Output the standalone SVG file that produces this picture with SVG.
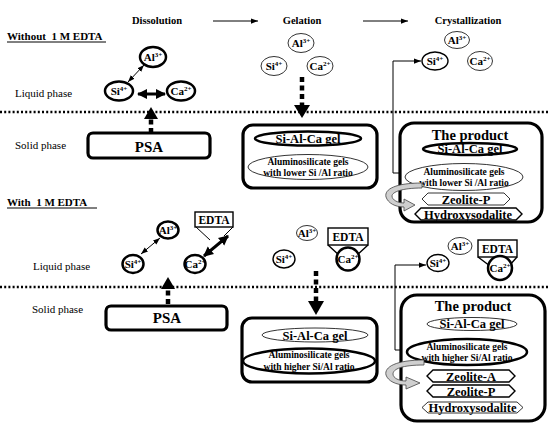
<svg xmlns="http://www.w3.org/2000/svg" width="550" height="426" viewBox="0 0 550 426">
<defs>
<style>
text{font-family:"Liberation Serif","Times New Roman",serif;fill:#000}
.h{font-weight:bold;font-size:11px}
.lbl{font-size:11px}
.ion{font-weight:bold;font-size:11px;text-anchor:middle}
.sup{font-size:7px}
.thick{fill:#fff;stroke:#000;stroke-width:2.5}
.med{fill:#fff;stroke:#000;stroke-width:1.4}
.thin{fill:#fff;stroke:#000;stroke-width:0.8}
.box{fill:#fff;stroke:#000;stroke-width:3.2}
.dots{stroke:#000;stroke-width:2.6;stroke-dasharray:2 2.2;fill:none}
.dash{stroke:#000;stroke-width:4.5;stroke-dasharray:5 3.5;fill:none}
.ln{stroke:#000;stroke-width:1;fill:none}
.mid{text-anchor:middle;font-weight:bold}
.ribbon{fill:#cfcfcf;stroke:#444;stroke-width:0.8}
</style>
<marker id="ah" viewBox="0 0 8 6" refX="8" refY="3" markerUnits="userSpaceOnUse" markerWidth="7" markerHeight="5.5" orient="auto-start-reverse"><path d="M0,0 L8,3 L0,6 z" fill="#000"/></marker>
<marker id="big" viewBox="0 0 10 10" refX="9" refY="5" markerUnits="userSpaceOnUse" markerWidth="10" markerHeight="11" orient="auto-start-reverse"><path d="M0,0 L10,5 L0,10 z" fill="#000"/></marker>
</defs>

<!-- phase separators -->
<line class="dots" x1="0" y1="112" x2="550" y2="112"/>
<line class="dots" x1="0" y1="287" x2="550" y2="287"/>

<!-- headers -->
<g id="headers">
<text class="mid" x="157" y="24" font-size="10.5">Dissolution</text>
<text class="mid" x="302" y="24" font-size="10.5">Gelation</text>
<text class="mid" x="468" y="24" font-size="10.5">Crystallization</text>
<text class="h" x="7" y="40" xml:space="preserve">Without  1 M EDTA</text>
<line x1="7" y1="42" x2="106" y2="42" stroke="#000" stroke-width="1"/>
<text class="h" x="7" y="206" xml:space="preserve">With  1 M EDTA</text>
<line x1="7" y1="208" x2="97" y2="208" stroke="#000" stroke-width="1"/>
<text class="lbl" x="15" y="97">Liquid phase</text>
<text class="lbl" x="15" y="149">Solid phase</text>
<text class="lbl" x="33" y="270">Liquid phase</text>
<text class="lbl" x="32" y="313">Solid phase</text>
</g>

<!-- connectors -->
<g id="connectors">
<line class="ln" x1="213" y1="21" x2="258" y2="21" stroke="#333" marker-end="url(#ah)"/>
<line class="ln" x1="363" y1="21" x2="408" y2="21" stroke="#333" marker-end="url(#ah)"/>
<line class="ln" x1="128" y1="82" x2="144" y2="65" marker-start="url(#ah)" marker-end="url(#ah)"/>
<line x1="138" y1="94" x2="165" y2="94" stroke="#000" stroke-width="3" marker-start="url(#big)" marker-end="url(#big)"/>
<line class="dash" x1="151" y1="133" x2="151" y2="119"/>
<polygon points="144,119 158,119 151,107" fill="#000"/>
<line class="dash" x1="302" y1="77" x2="302" y2="105"/>
<polygon points="294,105 310,105 302,118" fill="#000"/>
<path class="ln" d="M406,173 H393 V61 H421" marker-start="url(#ah)" marker-end="url(#ah)"/>
<line class="ln" x1="141" y1="254" x2="160" y2="238" marker-start="url(#ah)" marker-end="url(#ah)"/>
<line x1="204" y1="256" x2="228" y2="236" stroke="#000" stroke-width="3" marker-start="url(#big)" marker-end="url(#big)"/>
<line class="dash" x1="168" y1="304" x2="168" y2="289"/>
<polygon points="161,289 175,289 168,277" fill="#000"/>
<line class="dash" x1="316" y1="271" x2="316" y2="301"/>
<polygon points="308,301 324,301 316,315" fill="#000"/>
<path class="ln" d="M408,350 H395 V265 H426" marker-start="url(#ah)" marker-end="url(#ah)"/>
</g>

<!-- top row ions -->
<g id="ions-top-dissolution">
<ellipse class="thick" cx="153" cy="57" rx="13" ry="10"/>
<text class="ion" x="153" y="61">Al<tspan class="sup" dy="-4">3+</tspan></text>
<ellipse class="thick" cx="119" cy="91" rx="14" ry="9.5"/>
<text class="ion" x="119" y="95">Si<tspan class="sup" dy="-4">4+</tspan></text>
<ellipse class="thick" cx="181" cy="91" rx="14" ry="9.5"/>
<text class="ion" x="181" y="95">Ca<tspan class="sup" dy="-4">2+</tspan></text>
</g>
<g id="ions-top-gelation">
<ellipse class="thin" cx="301" cy="43" rx="13" ry="9.5"/>
<text class="ion" x="301" y="47">Al<tspan class="sup" dy="-4">3+</tspan></text>
<ellipse class="thin" cx="274" cy="66" rx="13" ry="9.5"/>
<text class="ion" x="274" y="70">Si<tspan class="sup" dy="-4">4+</tspan></text>
<ellipse class="thin" cx="320" cy="66" rx="13" ry="9.5"/>
<text class="ion" x="320" y="70">Ca<tspan class="sup" dy="-4">2+</tspan></text>
</g>
<g id="ions-top-crystallization">
<ellipse class="thin" cx="457" cy="40" rx="12.5" ry="8.5"/>
<text class="ion" x="457" y="44">Al<tspan class="sup" dy="-4">3+</tspan></text>
<ellipse class="med" cx="435" cy="61" rx="13" ry="9"/>
<text class="ion" x="435" y="65">Si<tspan class="sup" dy="-4">4+</tspan></text>
<ellipse class="thin" cx="480" cy="61" rx="12.5" ry="9.5"/>
<text class="ion" x="480" y="65">Ca<tspan class="sup" dy="-4">2+</tspan></text>
</g>

<g id="psa-top">
<rect class="box" x="88" y="133" width="122" height="25" rx="5"/>
<text class="mid" x="149" y="152" font-size="15">PSA</text>
</g>

<g id="gel-top">
<rect class="box" x="243" y="125" width="134" height="63" rx="10"/>
<ellipse class="thick" cx="308" cy="138.5" rx="53" ry="7"/>
<text class="mid" x="308" y="143" font-size="12.5">Si-Al-Ca gel</text>
<ellipse class="thin" cx="308" cy="167" rx="60" ry="12.5"/>
<text class="mid" x="308" y="165" font-size="9.5">Aluminosilicate gels</text>
<text class="mid" x="308" y="176" font-size="9.5">with lower Si /Al ratio</text>
</g>

<g id="product-top">
<rect class="box" x="400" y="123" width="142" height="99" rx="14" stroke-width="3.5"/>
<text class="mid" x="470" y="140" font-size="14.5">The product</text>
<ellipse class="thick" cx="470" cy="149" rx="47" ry="6"/>
<text class="mid" x="470" y="153" font-size="12.5">Si-Al-Ca gel</text>
<ellipse class="thin" cx="464" cy="177" rx="59" ry="13.5"/>
<text class="mid" x="464" y="175" font-size="9.5">Aluminosilicate gels</text>
<text class="mid" x="464" y="186" font-size="9.5">with lower Si /Al ratio</text>
<path class="ribbon" d="M422,183 C396,183 384,189 386,197 C388,203 395,207 404,207 L404,211 L415,205 L404,199 L404,203 C398,203 392,200 392,196 C392,192 402,188 422,188 Z"/>
<polygon class="thin" points="422,199 428,193 504,193 510,199 504,205 428,205"/>
<text class="mid" x="466" y="203.5" font-size="12.5">Zeolite-P</text>
<polygon class="med" points="415,214 421,208 516,208 522,214 516,220 421,220"/>
<text class="mid" x="468" y="218.5" font-size="12.5">Hydroxysodalite</text>
</g>

<!-- bottom row -->
<g id="ions-bottom-dissolution">
<ellipse class="thick" cx="168" cy="230" rx="10.5" ry="8.5"/>
<text class="ion" x="168" y="234">Al<tspan class="sup" dy="-4">3+</tspan></text>
<ellipse class="thick" cx="133" cy="264" rx="10.5" ry="9"/>
<text class="ion" x="133" y="268">Si<tspan class="sup" dy="-4">4+</tspan></text>
<ellipse class="thick" cx="195" cy="264" rx="10.5" ry="9"/>
<text class="ion" x="195" y="268">Ca<tspan class="sup" dy="-4">2+</tspan></text>
</g>
<g id="edta-dissolution">
<rect class="med" x="195" y="212" width="38" height="15"/>
<text class="mid" x="214" y="224" font-size="11.5">EDTA</text>
<polyline class="ln" points="196,227 210,240" stroke-width="1.3"/>
<polyline class="ln" points="233,227 224,236" stroke-width="1.3"/>
</g>

<g id="ions-bottom-gelation">
<ellipse class="thin" cx="307" cy="233" rx="10.5" ry="7.5"/>
<text class="ion" x="307" y="237">Al<tspan class="sup" dy="-4">3+</tspan></text>
<ellipse class="med" cx="284" cy="259" rx="11" ry="9"/>
<text class="ion" x="284" y="263">Si<tspan class="sup" dy="-4">4+</tspan></text>
<path class="med" d="M328,245 L340,256 M368,245 L356,256" fill="none"/>
<rect class="med" x="328" y="228" width="40" height="17"/>
<text class="mid" x="348" y="241" font-size="11.5">EDTA</text>
<circle class="thick" cx="348" cy="259" r="11.5"/>
<text class="ion" x="348" y="263">Ca<tspan class="sup" dy="-4">2+</tspan></text>
</g>

<g id="ions-bottom-crystallization">
<ellipse class="thin" cx="460" cy="246" rx="12" ry="8.5"/>
<text class="ion" x="460" y="250">Al<tspan class="sup" dy="-4">3+</tspan></text>
<ellipse class="med" cx="438" cy="263" rx="11" ry="8.5"/>
<text class="ion" x="438" y="267">Si<tspan class="sup" dy="-4">4+</tspan></text>
<path class="med" d="M478,257 L490,266 M517,257 L509,266" fill="none"/>
<rect class="med" x="478" y="240" width="39" height="17"/>
<text class="mid" x="497.5" y="253" font-size="11.5">EDTA</text>
<circle class="thick" cx="500" cy="268" r="12"/>
<text class="ion" x="500" y="272">Ca<tspan class="sup" dy="-4">2+</tspan></text>
</g>

<g id="psa-bottom">
<rect class="box" x="106" y="306" width="121" height="24" rx="5"/>
<text class="mid" x="167" y="323" font-size="15">PSA</text>
</g>

<g id="gel-bottom">
<rect class="box" x="242" y="318" width="135" height="64" rx="10"/>
<ellipse class="thin" cx="315" cy="335" rx="53" ry="7"/>
<text class="mid" x="315" y="339.5" font-size="12.5">Si-Al-Ca gel</text>
<ellipse class="thick" cx="309" cy="361" rx="66" ry="12.5"/>
<text class="mid" x="309" y="358" font-size="9.5">Aluminosilicate gels</text>
<text class="mid" x="309" y="370" font-size="9.5">with higher Si/Al ratio</text>
</g>

<g id="product-bottom">
<rect class="box" x="401" y="295" width="144" height="126" rx="16" stroke-width="3.5"/>
<text class="mid" x="473" y="311" font-size="14.5">The product</text>
<ellipse class="thin" cx="472" cy="324" rx="45" ry="6.5"/>
<text class="mid" x="472" y="328" font-size="12.5">Si-Al-Ca gel</text>
<ellipse class="thick" cx="467" cy="352" rx="60" ry="13"/>
<text class="mid" x="467" y="350" font-size="9.5">Aluminosilicate gels</text>
<text class="mid" x="467" y="361" font-size="9.5">with higher Si/Al ratio</text>
<path class="ribbon" d="M424,360 C396,360 384,367 386,375 C388,381 396,385 406,385 L406,389 L420,383 L406,377 L406,381 C399,381 393,378 393,374 C393,369 402,365 424,365 Z"/>
<polygon class="med" points="427,376 433,370 509,370 515,376 509,382 433,382" stroke-width="1.8"/>
<text class="mid" x="471" y="380.5" font-size="12.5">Zeolite-A</text>
<polygon class="med" points="427,391 433,385 509,385 515,391 509,397 433,397" stroke-width="1.8"/>
<text class="mid" x="471" y="395.5" font-size="12.5">Zeolite-P</text>
<polygon class="thin" points="422,407.5 428,402 517,402 523,407.5 517,413 428,413"/>
<text class="mid" x="472.5" y="411.5" font-size="12.5">Hydroxysodalite</text>
</g>
</svg>
